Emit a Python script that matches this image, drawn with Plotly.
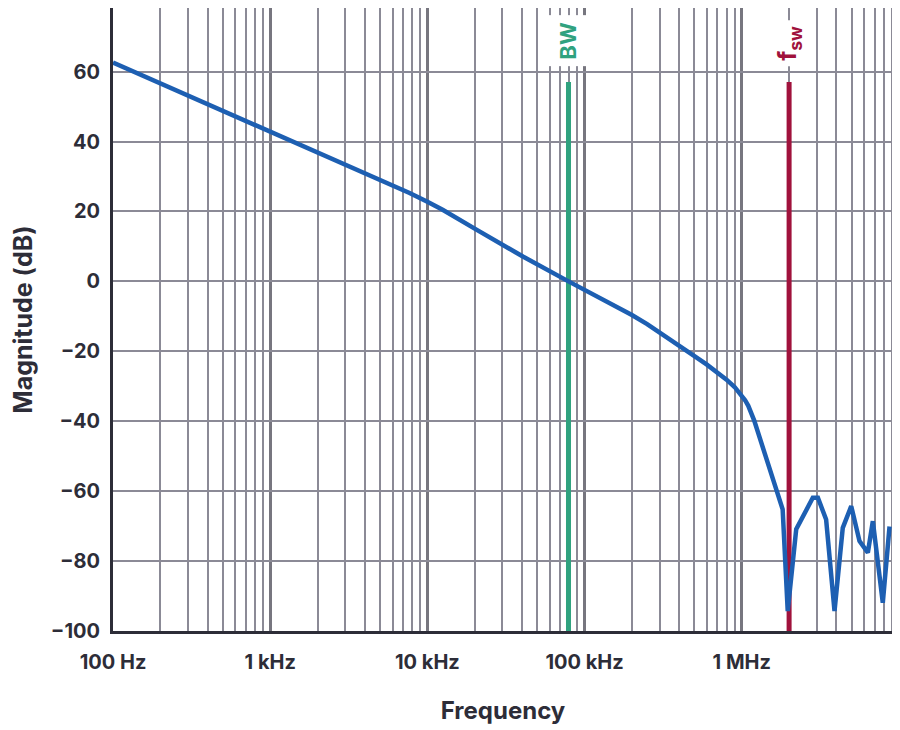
import numpy as np
import plotly.graph_objects as go

# loop gain magnitude
freq_hz = [100, 1000, 7700, 10000, 12500, 20500, 40500, 79000, 167000, 200000,
           250000, 300000, 400000, 500000, 600000, 700000, 800000, 900000, 1000000,
           1050000, 1100000, 1150000, 1200000, 1820000, 1960000, 2220000, 2830000,
           3050000, 3440000, 3890000, 4390000, 4970000, 5610000, 6340000,
           6820000, 7890000, 8710000]
mag_db = [62.6, 42.9, 25.3, 22.8, 20.5, 14.8, 7.1, 0.0, -7.6, -9.6,
          -12.2, -14.7, -18.6, -21.4, -23.8, -26.0, -28.1, -30.2, -32.7,
          -34.0, -35.6, -37.4, -39.8, -65.2, -94.3, -70.9, -61.9,
          -61.9, -68.1, -94.3, -70.5, -64.3, -74.3, -77.6,
          -68.6, -91.9, -70.1]

bw_freq = 79000
fsw_freq = 2000000
marker_top = 57

decades = [100, 1000, 10000, 100000, 1000000]
decade_labels = ["100 Hz", "1 kHz", "10 kHz", "100 kHz", "1 MHz"]
minor_vals = [m * d for d in decades for m in range(2, 10)]
y_ticks = [-100, -80, -60, -40, -20, 0, 20, 40, 60]

ink = "#2d2d38"
grid = "#8b8a96"
font = "Inter"

fig = go.Figure()

fig.add_trace(go.Scatter(x=[bw_freq, bw_freq], y=[-100, marker_top], mode="lines",
                         line=dict(color="#30a27f", width=5), hoverinfo="skip"))
fig.add_trace(go.Scatter(x=[fsw_freq, fsw_freq], y=[-100, marker_top], mode="lines",
                         line=dict(color="#a0123c", width=5), hoverinfo="skip"))
fig.add_trace(go.Scatter(x=freq_hz, y=mag_db, mode="lines",
                         line=dict(color="#1d5fb2", width=4.5)))

fig.add_annotation(x=np.log10(bw_freq), y=69, text="<b>BW</b>", textangle=-90,
                   showarrow=False, bgcolor="white", borderpad=6,
                   font=dict(family=font, size=22, color="#30a27f"))
fig.add_annotation(x=np.log10(fsw_freq), y=68, text="<b>f<sub>sw</sub></b>", textangle=-90,
                   showarrow=False, bgcolor="white", borderpad=5,
                   font=dict(family=font, size=25, color="#a0123c"))

fig.update_xaxes(type="log", range=[2, 6.962], automargin=False,
                 tickvals=decades, ticktext=decade_labels,
                 showgrid=True, gridcolor="#77767f", gridwidth=3,
                 minor=dict(tickvals=minor_vals, showgrid=True, gridcolor=grid, gridwidth=2),
                 showline=True, mirror=True, linecolor=ink, linewidth=3,
                 ticks="", ticklabelstandoff=11, zeroline=False,
                 tickfont=dict(family=font, size=20, color=ink, weight="bold"),
                 title=dict(text="Frequency", standoff=30,
                            font=dict(family=font, size=24, color=ink, weight="bold")))
fig.update_yaxes(range=[-100, 78.2], tickvals=y_ticks, automargin=False,
                 showgrid=True, gridcolor=grid, gridwidth=2, zeroline=False,
                 showline=True, mirror=True, linecolor=ink, linewidth=3,
                 ticks="", ticklabelstandoff=6,
                 tickfont=dict(family=font, size=20, color=ink, weight="bold"),
                 title=dict(text="Magnitude (dB)", standoff=37,
                            font=dict(family=font, size=25, color=ink, weight="bold")))

# page puts the figure 8px in from the top-left corner
fig.update_layout(width=892, height=722, showlegend=False,
                  margin=dict(l=105, r=7, t=0, b=99, pad=0),
                  plot_bgcolor="white", paper_bgcolor="white")

fig.write_html("out.html")
